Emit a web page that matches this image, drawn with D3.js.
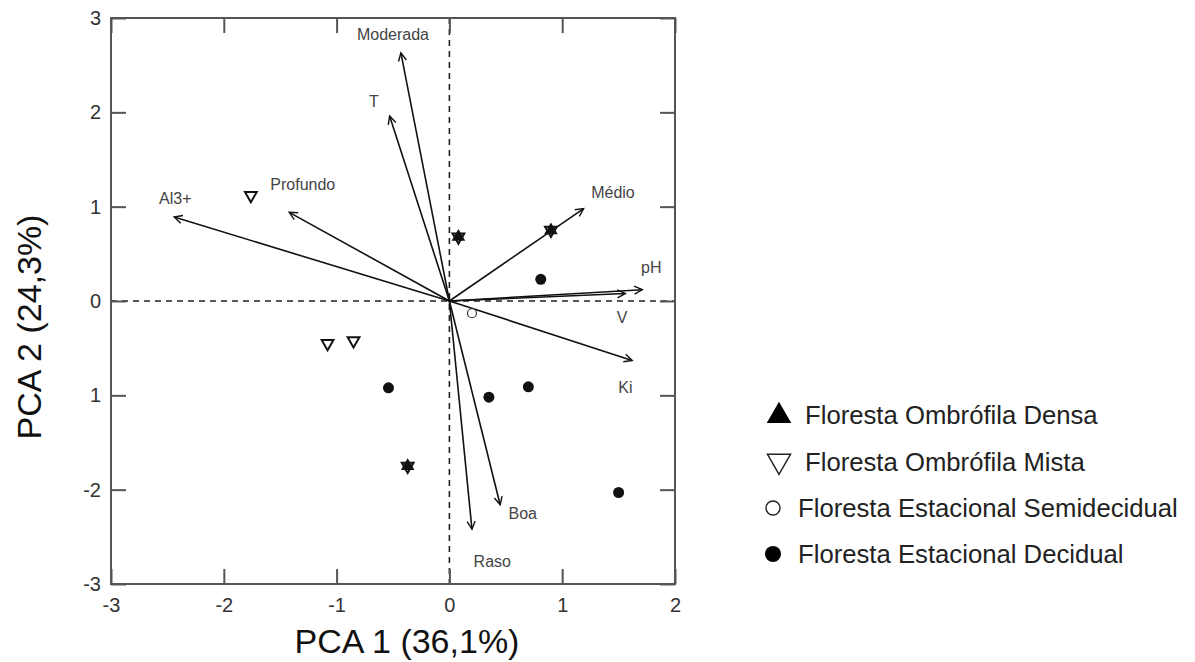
<!DOCTYPE html>
<html>
<head>
<meta charset="utf-8">
<script src="https://cdn.jsdelivr.net/npm/d3@7"></script>
<style>
  html, body { margin: 0; padding: 0; background: #fff; }
  svg { display: block; font-family: "Liberation Sans", Arial, sans-serif; }
</style>
</head>
<body>
<svg id="chart" width="1195" height="662"></svg>
<script>
// ---- data ----
const xTicks = [-3, -2, -1, 0, 1, 2];
const xTickLabels = ["-3", "-2", "-1", "0", "1", "2"];
const yTicks = [-3, -2, -1, 0, 1, 2, 3];
const yTickLabels = ["-3", "-2", "1", "0", "1", "2", "3"];

const vectorNames = ["Moderada", "T", "Al3+", "Profundo", "Médio", "pH", "V", "Ki", "Boa", "Raso"];
const vectorX = [-0.43, -0.53, -2.44, -1.42, 1.19, 1.71, 1.56, 1.62, 0.45, 0.20];
const vectorY = [2.63, 1.96, 0.89, 0.94, 0.98, 0.12, 0.08, -0.63, -2.16, -2.42];
const labelX = [-0.50, -0.67, -2.43, -1.30, 1.45, 1.79, 1.53, 1.56, 0.65, 0.38];
const labelY = [2.82, 2.11, 1.09, 1.23, 1.15, 0.35, -0.18, -0.92, -2.25, -2.76];

const densaX = [0.08, 0.90, -0.37];
const densaY = [0.68, 0.75, -1.75];
const mistaX = [-1.76, -1.08, -0.85, 0.08, 0.90, -0.37];
const mistaY = [1.12, -0.45, -0.42, 0.68, 0.75, -1.75];
const semidecidualX = [0.20];
const semidecidualY = [-0.13];
const decidualX = [0.81, -0.54, 0.35, 0.70, 1.50];
const decidualY = [0.23, -0.92, -1.02, -0.91, -2.03];

const legendLabels = ["Floresta Ombrófila Densa", "Floresta Ombrófila Mista",
  "Floresta Estacional Semidecidual", "Floresta Estacional Decidual"];

// ---- chart ----
const svg = d3.select("#chart");
const x = d3.scaleLinear().domain([-3, 2]).range([111, 675]);
const y = d3.scaleLinear().domain([-3, 3]).range([584, 18]);
const frameColor = "#555";
const textColor = "#333";

// arrow marker
svg.append("defs").append("marker")
  .attr("id", "arrow")
  .attr("viewBox", "-10 -6 12 12")
  .attr("refX", 0).attr("refY", 0)
  .attr("markerWidth", 12).attr("markerHeight", 12)
  .attr("markerUnits", "userSpaceOnUse")
  .attr("orient", "auto")
  .append("path")
  .attr("d", "M-8,-4 L0,0 L-8,4")
  .attr("fill", "none").attr("stroke", "#111").attr("stroke-width", 1.4);

// dashed zero lines
svg.append("line")
  .attr("x1", x(-3)).attr("x2", x(2)).attr("y1", y(0)).attr("y2", y(0))
  .attr("stroke", "#222").attr("stroke-width", 1.6).attr("stroke-dasharray", "6,5");
svg.append("line")
  .attr("x1", x(0)).attr("x2", x(0)).attr("y1", y(3)).attr("y2", y(-3))
  .attr("stroke", "#222").attr("stroke-width", 1.6).attr("stroke-dasharray", "6,5");

// axes (ticks inward on all sides)
const tl = 15;
const axB = d3.axisBottom(x).tickValues(xTicks).tickSize(-tl).tickFormat((d, i) => xTickLabels[i]).tickPadding(14);
const axT = d3.axisTop(x).tickValues(xTicks).tickSize(-tl).tickFormat("");
const axL = d3.axisLeft(y).tickValues(yTicks).tickSize(-tl).tickFormat((d, i) => yTickLabels[i]).tickPadding(10);
const axR = d3.axisRight(y).tickValues(yTicks).tickSize(-tl).tickFormat("");

function styleAxis(g) {
  g.select(".domain").remove();
  g.selectAll(".tick line").attr("stroke", frameColor).attr("stroke-width", 2);
  g.selectAll(".tick text").attr("fill", textColor).attr("font-size", 20)
    .attr("font-family", "Liberation Sans, Arial, sans-serif");
}
svg.append("g").attr("transform", `translate(0,${y(-3)})`).call(axB).call(styleAxis);
svg.append("g").attr("transform", `translate(0,${y(3)})`).call(axT).call(styleAxis);
svg.append("g").attr("transform", `translate(${x(-3)},0)`).call(axL).call(styleAxis);
svg.append("g").attr("transform", `translate(${x(2)},0)`).call(axR).call(styleAxis);

// frame
svg.append("rect")
  .attr("x", x(-3)).attr("y", y(3))
  .attr("width", x(2) - x(-3)).attr("height", y(-3) - y(3))
  .attr("fill", "none").attr("stroke", frameColor).attr("stroke-width", 2);

// vectors
const vectors = vectorNames.map((n, i) => ({ n, vx: vectorX[i], vy: vectorY[i], lx: labelX[i], ly: labelY[i] }));
svg.append("g").selectAll("line").data(vectors).join("line")
  .attr("x1", x(0)).attr("y1", y(0))
  .attr("x2", d => x(d.vx)).attr("y2", d => y(d.vy))
  .attr("stroke", "#111").attr("stroke-width", 1.6)
  .attr("marker-end", "url(#arrow)");
svg.append("g").selectAll("text").data(vectors).join("text")
  .attr("x", d => x(d.lx)).attr("y", d => y(d.ly))
  .attr("text-anchor", "middle").attr("dominant-baseline", "central")
  .attr("font-size", 16).attr("fill", "#444")
  .text(d => d.n);

// points
const sym = (type, size) => d3.symbol().type(type).size(size)();
const gPts = svg.append("g");
gPts.selectAll(".densa").data(densaX.map((d, i) => [d, densaY[i]])).join("path")
  .attr("transform", d => `translate(${x(d[0])},${y(d[1])})`)
  .attr("d", sym(d3.symbolTriangle, 80)).attr("fill", "#111");
gPts.selectAll(".mista").data(mistaX.map((d, i) => [d, mistaY[i]])).join("path")
  .attr("transform", d => `translate(${x(d[0])},${y(d[1])}) rotate(180)`)
  .attr("d", sym(d3.symbolTriangle, 60)).attr("fill", "none")
  .attr("stroke", "#111").attr("stroke-width", 2);
gPts.selectAll(".semi").data(semidecidualX.map((d, i) => [d, semidecidualY[i]])).join("circle")
  .attr("cx", d => x(d[0])).attr("cy", d => y(d[1])).attr("r", 4.5)
  .attr("fill", "#fff").attr("stroke", "#333").attr("stroke-width", 1.2);
gPts.selectAll(".dec").data(decidualX.map((d, i) => [d, decidualY[i]])).join("circle")
  .attr("cx", d => x(d[0])).attr("cy", d => y(d[1])).attr("r", 5.5)
  .attr("fill", "#111");

// axis titles
svg.append("text").attr("x", 407).attr("y", 653)
  .attr("text-anchor", "middle").attr("font-size", 34).attr("fill", "#111")
  .text("PCA 1 (36,1%)");
svg.append("text").attr("transform", "translate(41,327) rotate(-90)")
  .attr("text-anchor", "middle").attr("font-size", 34).attr("fill", "#111")
  .text("PCA 2 (24,3%)");

// legend
const legY = [415, 462, 508, 554];
const lg = svg.append("g");
legendLabels.forEach((lab, i) => {
  const cy = legY[i];
  if (i === 0) {
    lg.append("path").attr("transform", `translate(779,${cy + 1})`)
      .attr("d", sym(d3.symbolTriangle, 260)).attr("fill", "#000");
  } else if (i === 1) {
    lg.append("path").attr("transform", `translate(779,${cy - 1}) rotate(180)`)
      .attr("d", sym(d3.symbolTriangle, 230)).attr("fill", "none")
      .attr("stroke", "#222").attr("stroke-width", 1.5);
  } else if (i === 2) {
    lg.append("circle").attr("cx", 773).attr("cy", cy).attr("r", 7)
      .attr("fill", "none").attr("stroke", "#222").attr("stroke-width", 1.4);
  } else {
    lg.append("circle").attr("cx", 773).attr("cy", cy).attr("r", 8).attr("fill", "#000");
  }
  lg.append("text").attr("x", i < 2 ? 805 : 798).attr("y", cy + 9)
    .attr("font-size", 25.7).attr("fill", "#222").text(lab);
});
</script>
</body>
</html>
